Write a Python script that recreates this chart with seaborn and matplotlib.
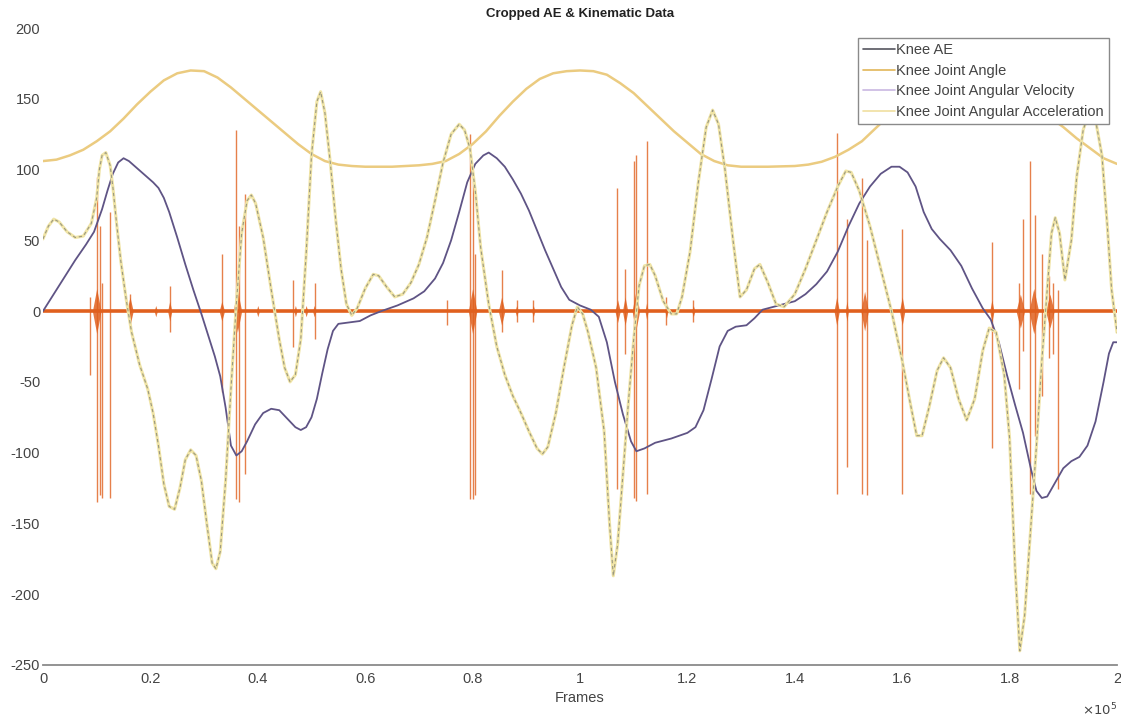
import numpy as np
import pandas as pd
import matplotlib
matplotlib.use("Agg")
import matplotlib.pyplot as plt
from matplotlib.lines import Line2D
from matplotlib.ticker import FuncFormatter
import seaborn as sns

# ---------------- data (x in units of 1e5 frames) ----------------
angle_x = [0, 0.025, 0.05, 0.075, 0.10, 0.125, 0.15, 0.175, 0.20, 0.225, 0.25, 0.275, 0.30,
           0.325, 0.35, 0.375, 0.40, 0.425, 0.45, 0.475, 0.50, 0.525, 0.55, 0.575, 0.60, 0.65,
           0.70, 0.725, 0.75, 0.775, 0.80, 0.825, 0.85, 0.875, 0.90, 0.925, 0.95, 0.975, 1.0,
           1.025, 1.05, 1.075, 1.10, 1.125, 1.15, 1.175, 1.20, 1.225, 1.25, 1.275, 1.30, 1.35,
           1.40, 1.425, 1.45, 1.475, 1.50, 1.525, 1.55, 1.575, 1.60, 1.625, 1.65, 1.675, 1.70,
           1.725, 1.75, 1.775, 1.80, 1.825, 1.85, 1.875, 1.90, 1.925, 1.95, 1.975, 2.0]
angle_y = [106, 107, 110, 114, 120, 127, 136, 146, 155, 163, 168, 170, 169.5,
           165, 158, 150, 142, 134, 126, 118, 111, 106, 103.5, 102.5, 102, 102,
           103, 104, 106, 111, 118, 127, 138, 148, 157, 164, 168, 169.5, 170,
           169.5, 167, 161, 154, 145, 136, 127, 119, 111, 106, 103, 102, 102,
           102.5, 103.5, 105.5, 109, 114, 120, 129, 138, 147, 155, 162, 167, 169.5,
           170, 169, 166, 160, 153, 145, 137, 130, 122, 115, 108, 104]

vel_x = [0, 0.02, 0.04, 0.06, 0.08, 0.095, 0.11, 0.12, 0.13, 0.14, 0.15, 0.16, 0.175, 0.19,
         0.205, 0.215, 0.225, 0.235, 0.25, 0.265, 0.28, 0.295, 0.31, 0.32, 0.33, 0.34, 0.35,
         0.36, 0.37, 0.38, 0.395, 0.41, 0.425, 0.44, 0.455, 0.47, 0.48, 0.49, 0.50, 0.51, 0.52,
         0.53, 0.54, 0.55, 0.57, 0.59, 0.61, 0.63, 0.66, 0.69, 0.71, 0.73, 0.745, 0.76, 0.775,
         0.79, 0.805, 0.82, 0.83, 0.845, 0.86, 0.875, 0.89, 0.905, 0.92, 0.935, 0.95, 0.965,
         0.98, 1.0, 1.02, 1.035, 1.05, 1.065, 1.08, 1.095, 1.105, 1.12, 1.14, 1.17, 1.20, 1.215,
         1.23, 1.245, 1.26, 1.275, 1.29, 1.31, 1.325, 1.34, 1.37, 1.40, 1.42, 1.44, 1.46, 1.48,
         1.50, 1.52, 1.54, 1.56, 1.58, 1.595, 1.61, 1.625, 1.64, 1.655, 1.67, 1.69, 1.71, 1.73,
         1.75, 1.765, 1.78, 1.795, 1.81, 1.825, 1.84, 1.85, 1.86, 1.87, 1.885, 1.90, 1.915,
         1.93, 1.945, 1.96, 1.975, 1.985, 1.993, 2.0]
vel_y = [0, 12, 24, 36, 47, 56, 72, 85, 97, 105, 108, 106, 101, 96,
         91, 87, 80, 70, 52, 33, 15, -2, -20, -32, -46, -68, -95,
         -102, -99, -92, -80, -72, -69, -70, -76, -82, -84, -82, -75, -62, -44,
         -27, -14, -9, -8, -7, -3, 0, 4, 9, 14, 23, 34, 50, 70,
         91, 104, 110, 112, 108, 102, 93, 83, 71, 57, 43, 30, 17,
         8, 4, 1, -4, -22, -50, -73, -92, -99, -97, -93, -90, -86, -82,
         -70, -48, -25, -14, -11, -10, -5, 1, 4, 7, 12, 19, 28, 42,
         60, 76, 88, 97, 102, 102, 98, 88, 70, 58, 51, 43, 32, 16,
         2, -6, -22, -45, -66, -86, -112, -127, -132, -131, -121, -111, -106,
         -103, -95, -78, -50, -30, -22, -22]

acc_x = [0, 0.01, 0.02, 0.03, 0.045, 0.06, 0.075, 0.09, 0.10, 0.105, 0.11, 0.117, 0.125, 0.13,
         0.137, 0.145, 0.155, 0.165, 0.18, 0.195, 0.205, 0.215, 0.225, 0.235, 0.245, 0.255,
         0.265, 0.275, 0.285, 0.295, 0.305, 0.315, 0.322, 0.33, 0.34, 0.35, 0.36, 0.37, 0.38,
         0.388, 0.396, 0.41, 0.425, 0.44, 0.45, 0.46, 0.47, 0.48, 0.49, 0.50, 0.51, 0.517, 0.525,
         0.535, 0.545, 0.555, 0.565, 0.575, 0.585, 0.60, 0.615, 0.625, 0.64, 0.655, 0.67, 0.685,
         0.70, 0.715, 0.73, 0.745, 0.76, 0.775, 0.785, 0.795, 0.805, 0.815, 0.83, 0.845, 0.86,
         0.875, 0.89, 0.905, 0.92, 0.93, 0.94, 0.955, 0.97, 0.985, 0.995, 1.005, 1.015, 1.03,
         1.045, 1.055, 1.062, 1.07, 1.08, 1.09, 1.10, 1.11, 1.12, 1.13, 1.14, 1.155, 1.17, 1.18,
         1.19, 1.205, 1.22, 1.235, 1.247, 1.258, 1.27, 1.285, 1.298, 1.31, 1.325, 1.335, 1.35,
         1.365, 1.38, 1.40, 1.42, 1.44, 1.46, 1.48, 1.495, 1.505, 1.52, 1.54, 1.56, 1.58, 1.60,
         1.615, 1.627, 1.637, 1.65, 1.665, 1.677, 1.69, 1.705, 1.72, 1.735, 1.75, 1.762, 1.775,
         1.79, 1.80, 1.81, 1.819, 1.828, 1.84, 1.85, 1.86, 1.87, 1.878, 1.885, 1.893, 1.903,
         1.915, 1.925, 1.937, 1.948, 1.96, 1.972, 1.982, 1.99, 2.0]
acc_y = [51, 60, 65, 63, 56, 52, 53, 62, 80, 100, 110, 112, 103, 88,
         62, 35, 8, -15, -38, -55, -72, -95, -122, -138, -140, -125,
         -105, -98, -102, -120, -150, -178, -182, -170, -120, -55, 5, 55, 78,
         82, 76, 52, 15, -20, -40, -50, -45, -20, 40, 110, 148, 155, 140,
         105, 65, 30, 5, -3, 2, 16, 26, 25, 17, 10, 12, 20,
         33, 52, 78, 105, 125, 132, 128, 115, 85, 45, 5, -25, -45,
         -60, -72, -85, -97, -101, -96, -72, -40, -10, 3, -2, -15, -40,
         -85, -150, -187, -165, -115, -65, -20, 18, 32, 33, 25, 7, -2, -2,
         10, 42, 90, 130, 142, 132, 100, 50, 10, 15, 30, 33, 20,
         5, 3, 12, 30, 50, 70, 88, 99, 98, 85, 60, 30, 0, -35,
         -65, -88, -88, -68, -42, -33, -40, -62, -77, -62, -28, -12, -15,
         -45, -90, -180, -240, -215, -150, -95, -35, 15, 55, 66, 55, 22,
         50, 95, 128, 140, 135, 110, 60, 15, -15]

# AE spikes: position, top, bottom
ae_spike_x = [0.0875, 0.100, 0.106, 0.110, 0.125, 0.162, 0.236, 0.333, 0.360, 0.365, 0.376,
              0.466, 0.507, 0.752, 0.795, 0.800, 0.805, 0.854, 0.882, 0.913, 1.068, 1.084,
              1.100, 1.104, 1.124, 1.161, 1.211, 1.478, 1.497, 1.525, 1.534, 1.599, 1.767,
              1.818, 1.825, 1.838, 1.847, 1.860, 1.873, 1.881, 1.891]
ae_spike_hi = [10, 95, 60, 20, 70, 12, 18, 40, 128, 60, 83,
               22, 20, 8, 125, 92, 40, 29, 8, 8, 87, 30,
               106, 110, 120, 10, 8, 126, 65, 94, 50, 58, 49,
               20, 65, 106, 68, 40, 25, 20, 15]
ae_spike_lo = [-45, -135, -130, -132, -132, -12, -15, -57, -133, -135, -115,
               -25, -20, -10, -133, -133, -130, -15, -8, -8, -126, -30,
               -132, -134, -129, -10, -8, -129, -110, -129, -130, -129, -97,
               -55, -28, -129, -88, -60, -33, -30, -126]

# AE bursts: centre, half width, amplitude
ae_burst_x = [0.10, 0.162, 0.21, 0.236, 0.333, 0.362, 0.40, 0.47, 0.49, 0.505, 0.80, 0.854,
              0.882, 0.913, 1.07, 1.084, 1.104, 1.124, 1.161, 1.211, 1.478, 1.497, 1.53,
              1.60, 1.767, 1.82, 1.845, 1.875]
ae_burst_w = [0.008, 0.006, 0.003, 0.004, 0.005, 0.008, 0.003, 0.003, 0.003, 0.003, 0.008, 0.006,
              0.003, 0.003, 0.005, 0.005, 0.007, 0.003, 0.003, 0.003, 0.005, 0.003, 0.007,
              0.005, 0.004, 0.008, 0.009, 0.008]
ae_burst_a = [16, 10, 4, 7, 7, 15, 4, 4, 4, 4, 16, 10,
              4, 4, 8, 10, 14, 6, 5, 4, 10, 7, 14,
              10, 8, 12, 16, 12]

legend_labels = ["Knee AE", "Knee Joint Angle", "Knee Joint Angular Velocity",
                 "Knee Joint Angular Acceleration"]
y_ticks = [-250, -200, -150, -100, -50, 0, 50, 100, 150, 200]
x_ticks = [0, 0.2, 0.4, 0.6, 0.8, 1.0, 1.2, 1.4, 1.6, 1.8, 2.0]
SCALE = 1e5

# ---------------- style ----------------
sns.set_style("white")
plt.rcParams["font.family"] = ["Liberation Sans", "DejaVu Sans"]
plt.rcParams["axes.unicode_minus"] = False
TXT = "#444444"

fig = plt.figure(figsize=(11.21, 7.22), dpi=100)
ax = fig.add_axes([43 / 1121, 1 - 665 / 722, (1117 - 43) / 1121, (665 - 28) / 722])

AE_C = "#E0601E"
ax.plot([0, 2 * SCALE], [0, 0], color=AE_C, lw=2.6, zorder=1, solid_capstyle="butt")
ax.vlines(np.array(ae_spike_x) * SCALE, ae_spike_lo, ae_spike_hi, color=AE_C, lw=1.0,
          alpha=0.8, zorder=1)
for c, w, a in zip(ae_burst_x, ae_burst_w, ae_burst_a):
    xs = np.array([c - w, c, c + w]) * SCALE
    ax.fill_between(xs, [0, -a, 0], [0, a, 0], color=AE_C, alpha=0.85, lw=0, zorder=1)

df_ang = pd.DataFrame({"frame": np.array(angle_x) * SCALE, "val": angle_y})
df_vel = pd.DataFrame({"frame": np.array(vel_x) * SCALE, "val": vel_y})
df_acc = pd.DataFrame({"frame": np.array(acc_x) * SCALE, "val": acc_y})

sns.lineplot(data=df_ang, x="frame", y="val", ax=ax, color="#EBCB80", lw=1.8,
             estimator=None, sort=False, zorder=2)
sns.lineplot(data=df_vel, x="frame", y="val", ax=ax, color="#5F5485", lw=1.3,
             estimator=None, sort=False, zorder=3)
sns.lineplot(data=df_acc, x="frame", y="val", ax=ax, color="#F0E4A6", lw=2.2,
             estimator=None, sort=False, zorder=3)
sns.lineplot(data=df_acc, x="frame", y="val", ax=ax, color="#9A9880", lw=0.8,
             estimator=None, sort=False, zorder=4)
ax.lines[-1].set_dashes([3, 2.5])

ax.set_xlim(0, 2 * SCALE)
ax.set_ylim(-250, 200)
ax.set_xticks(np.array(x_ticks) * SCALE)
ax.set_yticks(y_ticks)
ax.xaxis.set_major_formatter(FuncFormatter(lambda v, p: "%g" % (v / SCALE)))
ax.tick_params(direction="in", length=5, width=0.8, color="#9a9a9a", labelcolor=TXT,
               labelsize=10.5)
ax.tick_params(axis="x", pad=5)
ax.tick_params(axis="y", pad=2)
for s in ["top", "right", "left"]:
    ax.spines[s].set_visible(False)
ax.spines["bottom"].set_color("#8a8a8a")
ax.spines["bottom"].set_linewidth(1.3)
ax.set_xlabel("Frames", fontsize=10.5, color=TXT, labelpad=4)
ax.set_ylabel("")
ax.set_title("Cropped AE & Kinematic Data", fontsize=9.5, fontweight="bold", color="#222222",
             pad=8)
ax.text(1.0, -0.07, r"$\times10^5$", transform=ax.transAxes, ha="right", va="center",
        fontsize=9.5, color=TXT)

handles = [Line2D([], [], color="#55555f", lw=1.2),
           Line2D([], [], color="#E2B659", lw=1.2),
           Line2D([], [], color="#C9B8E2", lw=1.2),
           Line2D([], [], color="#F0DFA0", lw=1.2)]
leg = ax.legend(handles, legend_labels, loc="upper right",
                bbox_to_anchor=(1109 / 1121, 1 - 38 / 722), bbox_transform=fig.transFigure,
                borderaxespad=0, fontsize=10.5, handlelength=2.2, handletextpad=0.1,
                labelspacing=0.45, borderpad=0.35, fancybox=False, framealpha=1)
leg.get_frame().set_edgecolor("#8a8a8a")
leg.get_frame().set_linewidth(1.0)
for t in leg.get_texts():
    t.set_color(TXT)
leg.set_zorder(10)

fig.savefig("out.png", dpi=100)
